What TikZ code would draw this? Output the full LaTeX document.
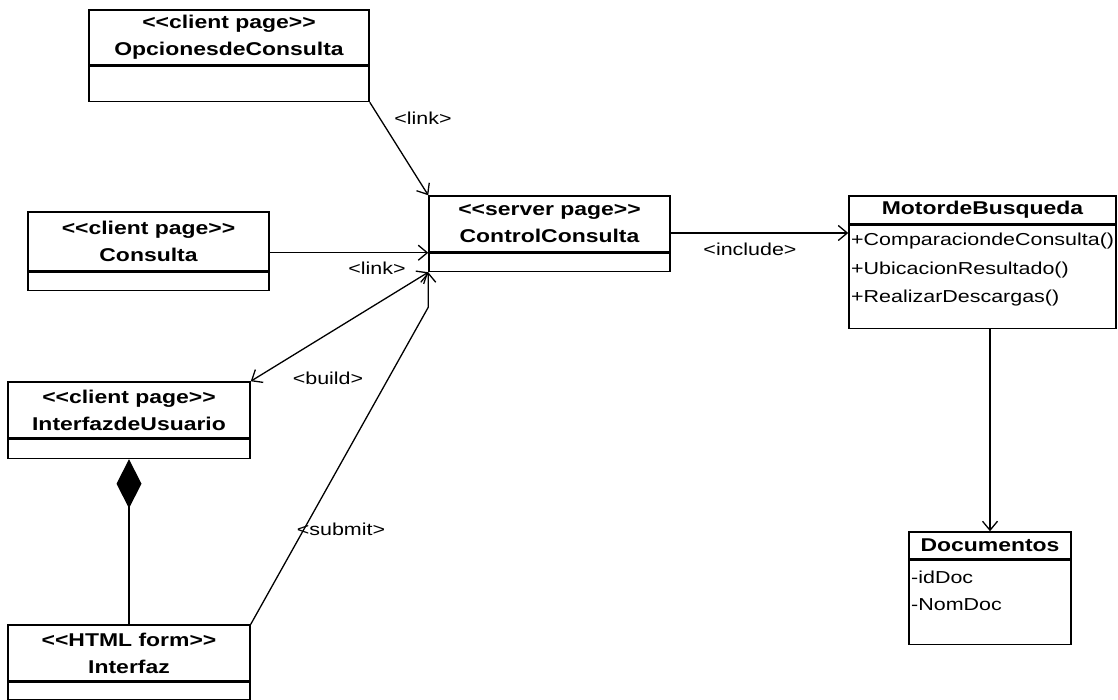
\documentclass[tikz,border=0pt]{standalone}
\usepackage{fontspec}
\setmainfont[FakeStretch=1.24]{Liberation Sans}
\usetikzlibrary{positioning,arrows.meta}
\tikzset{>={Straight Barb[length=9pt,width=15pt]}}
\tikzset{head/.style={draw, line width=1.5pt, inner sep=0pt, align=center,
           font=\bfseries\fontsize{18.5}{27}\selectfont},
         compart/.style={draw, line width=1.5pt, inner sep=0pt},
         attr/.style={inner sep=0pt, align=left, anchor=north west,
           font=\fontsize{17.3}{28.5}\selectfont},
         lbl/.style={inner sep=1pt, font=\fontsize{17.3}{20}\selectfont},
         dep/.style={line width=1.3pt, ->}}
\newcommand{\stereo}[1]{<{}<#1>{}>}

\begin{document}
\begin{tikzpicture}[x=1pt,y=-1pt]
    \useasboundingbox (0,0) rectangle (1118,700);
    % client and server pages
    \node[head, minimum width=280pt, minimum height=55pt] (opc) at (229,37.5)
      {\stereo{client page}\\OpcionesdeConsulta};
    \node[compart, minimum width=280pt, minimum height=35pt, below=0pt of opc] (opcb) {};
    \node[head, minimum width=241pt, minimum height=59pt] (cons) at (148.5,241.5)
      {\stereo{client page}\\Consulta};
    \node[compart, minimum width=241pt, minimum height=18pt, below=0pt of cons] (consb) {};
    \node[head, minimum width=241pt, minimum height=56pt] (ctrl) at (549.5,224)
      {\stereo{server page}\\ControlConsulta};
    \node[compart, minimum width=241pt, minimum height=18pt, below=0pt of ctrl] (ctrlb) {};
    \node[head, minimum width=242pt, minimum height=56pt] (usu) at (129,410)
      {\stereo{client page}\\InterfazdeUsuario};
    \node[compart, minimum width=242pt, minimum height=19pt, below=0pt of usu] (usub) {};
    \node[head, minimum width=242pt, minimum height=56pt] (intf) at (129,653)
      {\stereo{HTML form}\\Interfaz};
    \node[compart, minimum width=242pt, minimum height=17pt, below=0pt of intf] (intfb) {};
    % classes
    \node[head, minimum width=267pt, minimum height=28pt] (mot) at (982.5,210) {MotordeBusqueda};
    \node[compart, minimum width=267pt, minimum height=103pt, below=0pt of mot] (motb) {};
    \node[attr] (motops) at (851,233)
      {+ComparaciondeConsulta()\\+UbicacionResultado()\\+RealizarDescargas()};
    \node[head, minimum width=162pt, minimum height=27pt] (docs) at (990,545.5) {Documentos};
    \node[compart, minimum width=162pt, minimum height=84pt, below=0pt of docs] (docsb) {};
    \node[attr, font=\fontsize{17.3}{27}\selectfont] (docatt) at (911,571) {-idDoc\\-NomDoc};

    \draw[dep] (opcb.south east) -- (ctrl.north west);
    \draw[dep] (cons.east |- ctrl.south) -- (ctrl.south west);
    \draw[dep, <->] (ctrlb.south west) -- (usu.north east);
    \coordinate (bend) at ([yshift=-35pt]ctrlb.south west);
    \draw[dep] (intf.north east) -- (bend) -- (ctrlb.south west);
    \coordinate (incl) at ([yshift=-9pt]ctrl.east);
    \draw[dep] (incl) -- (incl -| mot.west);
    \draw[dep] (docs.north |- motb.south) -- (docs.north);
    \draw[line width=1.3pt, {Diamond[length=49pt,width=25pt]}-] (usub.south) -- (intf.north);

    \node[lbl] (lnk1) at (423,118) {<link>};
    \node[lbl] (lnk2) at (377,268) {<link>};
    \node[lbl] (inc) at (750,249) {<include>};
    \node[lbl] (bld) at (328,378) {<build>};
    \node[lbl] (sbm) at (341,529) {<submit>};
\end{tikzpicture}
\end{document}
